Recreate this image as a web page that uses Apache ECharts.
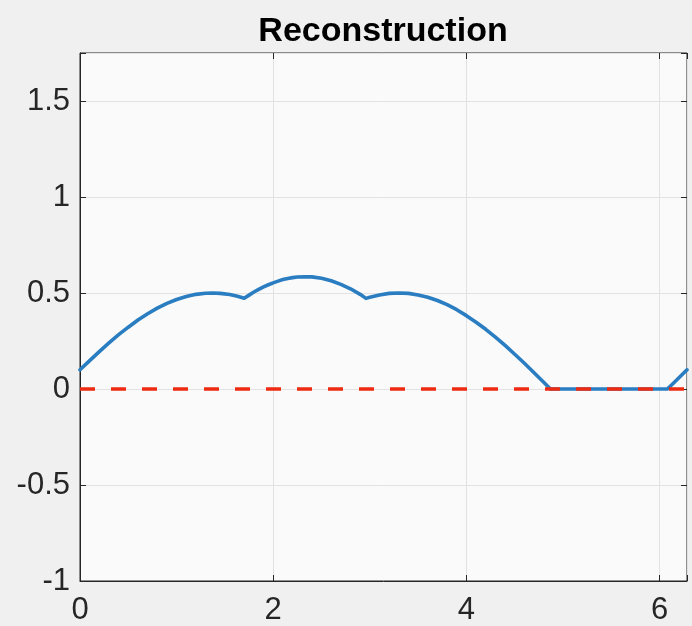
<!DOCTYPE html>
<html>
<head>
<meta charset="utf-8">
<title>Reconstruction</title>
<script src="https://cdn.jsdelivr.net/npm/echarts@6/dist/echarts.min.js"></script>
<style>
  html, body { margin: 0; padding: 0; background: #f0f0f0; }
  #chart { width: 692px; height: 626px; }
</style>
</head>
<body>
<div id="chart"></div>
<script>
// Reconstructed signal samples (x in radians, one period)
const reconX = [0, 0.1, 0.2, 0.3, 0.4, 0.5, 0.6, 0.7, 0.8, 0.9, 1.0, 1.1, 1.2, 1.3, 1.37, 1.45, 1.55,
                1.63, 1.70, 1.75, 1.8, 1.85, 1.9, 1.95, 2.0, 2.05, 2.1, 2.15, 2.2, 2.25, 2.33, 2.4,
                2.5, 2.6, 2.7, 2.8, 2.9, 2.96, 3.0, 3.1, 3.2, 3.3, 3.4, 3.5, 3.6, 3.7, 3.8, 3.9,
                4.0, 4.1, 4.2, 4.3, 4.4, 4.5, 4.6, 4.7, 4.8, 4.87, 5.5, 6.08, 6.15, 6.2832];
const reconY = [0.100, 0.148, 0.195, 0.240, 0.283, 0.322, 0.359, 0.392, 0.421, 0.446, 0.466, 0.482,
                0.493, 0.499, 0.500, 0.498, 0.492, 0.483, 0.473, 0.489, 0.505, 0.519, 0.532, 0.543,
                0.553, 0.562, 0.570, 0.576, 0.580, 0.583, 0.585, 0.584, 0.577, 0.564, 0.545, 0.522,
                0.493, 0.472, 0.478, 0.490, 0.498, 0.500, 0.498, 0.490, 0.478, 0.461, 0.439, 0.413,
                0.382, 0.348, 0.311, 0.270, 0.227, 0.181, 0.134, 0.085, 0.035, 0, 0, 0, 0.034, 0.100];

// Zero reference line
const refX = [0, 6.2832];
const refY = [0, 0];

// Axis ranges and tick spacing
const xRange = [0, 6.2832];
const xStep = 2;
const yRange = [-1, 1.75];
const yStep = 0.5;

const titleText = 'Reconstruction';

const pairs = (xs, ys) => xs.map((x, i) => [x, ys[i]]);

const font = '"Liberation Sans", Arial, Helvetica, sans-serif';
const axisColor = '#262626';
const gridColor = '#e2e2e2';

function fmtX(v) {
  return Math.abs(v - Math.round(v)) < 1e-9 && Math.round(v) % xStep === 0 ? String(Math.round(v)) : '';
}
function fmtY(v) {
  const k = v / yStep;
  if (Math.abs(k - Math.round(k)) > 1e-9 || v > 1.6) return '';
  return String(Math.round(v * 10) / 10);
}

const chart = echarts.init(document.getElementById('chart'), null, { renderer: 'canvas' });

const baseTick = { show: true, inside: true, length: 6, lineStyle: { color: axisColor, width: 1 } };

chart.setOption({
  backgroundColor: '#f0f0f0',
  animation: false,
  title: {
    text: titleText,
    left: 378,
    textAlign: 'center',
    top: 9,
    textStyle: { fontFamily: font, fontSize: 34, fontWeight: 'bold', color: '#000', lineHeight: 36 }
  },
  grid: {
    left: 80, right: 5, top: 53, bottom: 45,
    containLabel: false,
    outerBoundsMode: 'none',
    show: true,
    backgroundColor: '#fafafa',
    borderColor: axisColor,
    borderWidth: 1
  },
  xAxis: [
    {
      type: 'value', min: xRange[0], max: xRange[1], interval: xStep,
      axisLine: { show: true, onZero: false, lineStyle: { color: axisColor, width: 1 } },
      axisTick: baseTick,
      axisLabel: { formatter: fmtX, fontFamily: font, fontSize: 31, color: axisColor, margin: 14 },
      splitLine: { show: true, lineStyle: { color: gridColor, width: 1 } }
    },
    {
      type: 'value', position: 'top', min: xRange[0], max: xRange[1], interval: xStep,
      axisLine: { show: false, onZero: false }, axisTick: baseTick,
      axisLabel: { show: false }, splitLine: { show: false }
    }
  ],
  yAxis: [
    {
      type: 'value', min: yRange[0], max: yRange[1], interval: yStep,
      axisLine: { show: true, onZero: false, lineStyle: { color: axisColor, width: 1 } },
      axisTick: baseTick,
      axisLabel: { formatter: fmtY, fontFamily: font, fontSize: 31, color: axisColor, margin: 10 },
      splitLine: { show: true, lineStyle: { color: gridColor, width: 1 } }
    },
    {
      type: 'value', position: 'right', min: yRange[0], max: yRange[1], interval: yStep,
      axisLine: { show: false, onZero: false }, axisTick: baseTick,
      axisLabel: { show: false }, splitLine: { show: false }
    }
  ],
  series: [
    {
      name: 'reconstruction',
      type: 'line',
      data: pairs(reconX, reconY),
      showSymbol: false,
      symbol: 'none',
      clip: true,
      lineStyle: { color: '#2a7dc0', width: 3.6, join: 'round', cap: 'round' },
      z: 2
    },
    {
      name: 'zero',
      type: 'line',
      data: pairs(refX, refY),
      showSymbol: false,
      symbol: 'none',
      clip: true,
      lineStyle: { color: '#ee2a12', width: 3.6, type: [15, 16] },
      z: 3
    }
  ]
});
</script>
</body>
</html>
